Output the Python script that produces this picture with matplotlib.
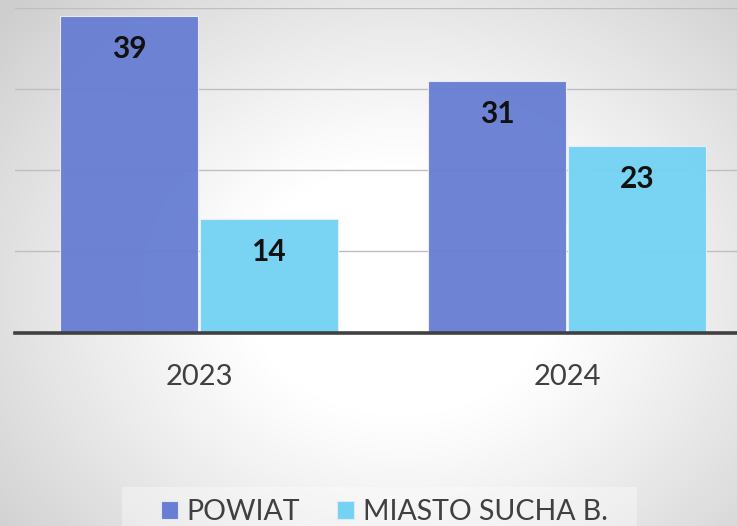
import numpy as np
import matplotlib
matplotlib.use("Agg")
import matplotlib.pyplot as plt
from matplotlib.patches import Patch, Rectangle

# Data
years = ["2023", "2024"]
series_names = ["POWIAT", "MIASTO SUCHA B."]
powiat = [39, 31]
miasto = [14, 23]
colors = ["#687ed2", "#74d2f3"]

W, H, DPI = 737, 526, 100
fig = plt.figure(figsize=(W / DPI, H / DPI), dpi=DPI)

# Soft radial backdrop
bg = fig.add_axes([0, 0, 1, 1], zorder=-10)
yy, xx = np.mgrid[0:H, 0:W]
r = np.sqrt(((xx - 400) / 520.0) ** 2 + ((yy - 290) / 420.0) ** 2)
v = 1.0 - 0.19 * np.clip((r - 0.3) / 0.7, 0, 1) ** 1.1
bg.imshow(np.dstack([v, v, v]), extent=[0, 1, 0, 1], aspect="auto", origin="upper")
bg.set_axis_off()

# Plot area
left = 15 / W
width = 736 / W
bottom = (H - 332.5) / H
top = (H - 8) / H
ax = fig.add_axes([left, bottom, width, top - bottom])
ax.set_facecolor("none")
ax.patch.set_alpha(0)

x = np.arange(len(years))
bw = 0.375
off = 0.19
groups = [powiat, miasto]
for i, (vals, name, c) in enumerate(zip(groups, series_names, colors)):
    xs = x + (off if i else -off)
    bars = ax.bar(xs, vals, width=bw, color=c, alpha=0.96, edgecolor="#e8eefc",
                  linewidth=0.8, label=name, zorder=2)
    for b, val in zip(bars, vals):
        ax.text(b.get_x() + b.get_width() / 2, val - 4.1, f"{val}",
                ha="center", va="center", fontsize=21.5, fontweight="bold",
                family="Lato", color="#111111", zorder=3)

ax.set_xlim(-0.5, 1.5)
ax.set_ylim(0, 40)
ax.set_yticks([10, 20, 30, 40])
ax.yaxis.grid(True, color="#bfbfbf", linewidth=1.0, zorder=0)
ax.set_axisbelow(True)
ax.tick_params(axis="y", left=False, labelleft=False)
ax.tick_params(axis="x", bottom=False, pad=19)
ax.set_xticks(x)
ax.set_xticklabels(years, fontsize=21, family="Lato", color="#404040")
for s in ["left", "right", "top"]:
    ax.spines[s].set_visible(False)
ax.spines["bottom"].set_color("#404040")
ax.spines["bottom"].set_linewidth(2.6)
ax.spines["bottom"].set_zorder(4)

# Legend panel
fig.patches.append(Rectangle((122 / W, 0), (637 - 122) / W, (H - 487) / H,
                             transform=fig.transFigure, facecolor="white",
                             alpha=0.35, edgecolor="none", zorder=-5))
handles = [Patch(facecolor=c, edgecolor="#dfe6f7", linewidth=0.8) for c in colors]
fig.legend(handles, series_names, loc="upper left",
           bbox_to_anchor=(161 / W, 1 - 499 / H), frameon=False, ncol=2,
           prop={"family": "Lato", "size": 20.5}, labelcolor="#404040",
           handlelength=0.58, handleheight=0.62, handletextpad=0.32,
           columnspacing=1.3, borderpad=0, borderaxespad=0)

fig.savefig("out.png", dpi=DPI)
